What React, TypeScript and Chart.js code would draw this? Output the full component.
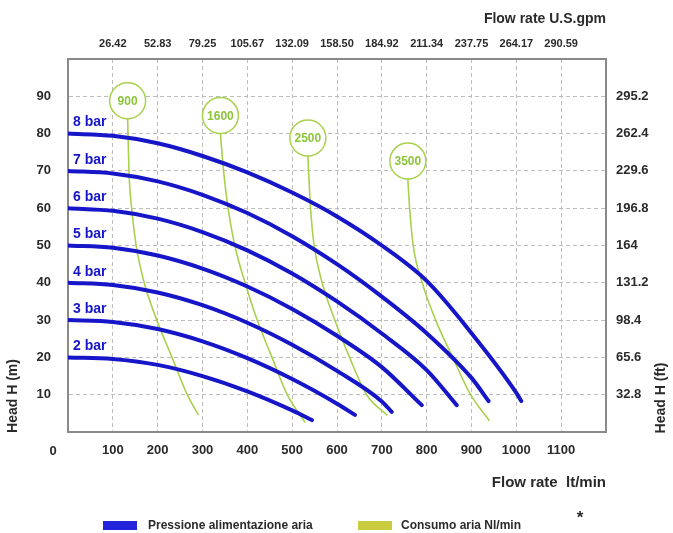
import { useEffect, useRef } from 'react';
import { Chart, registerables } from 'chart.js';

Chart.register(...registerables);

const FONT = '"Liberation Sans", Arial, Helvetica, sans-serif';
const BLUE = '#1616c8';
const GREEN = '#a9d14e';
const GREEN_TEXT = '#8cc43a';
const GRID = '#bdbdbd';
const TEXT = '#2a2a2a';

// Top axis (U.S. gpm) labels for 100..1100 lt/min
const usGpmLabels = ['26.42', '52.83', '79.25', '105.67', '132.09', '158.50', '184.92', '211.34', '237.75', '264.17', '290.59'];
// Right axis (ft) labels for 10..90 m
const headFtLabels = ['32.8', '65.6', '98.4', '131.2', '164', '196.8', '229.6', '262.4', '295.2'];

// Pressure curves (flow lt/min, head m)
const bar2Flow = [0, 100, 200, 300, 400, 500, 544];
const bar2Head = [20, 19.6, 18.0, 15.0, 10.9, 5.8, 3.2];
const bar3Flow = [0, 100, 200, 300, 400, 500, 600, 640];
const bar3Head = [30, 29.5, 27.6, 24.3, 19.8, 14.2, 7.6, 4.6];
const bar4Flow = [0, 100, 200, 300, 400, 500, 600, 700, 722];
const bar4Head = [40, 39.4, 37.4, 34.0, 29.3, 23.4, 16.4, 8.2, 5.4];
const bar5Flow = [0, 100, 200, 300, 400, 500, 600, 700, 789];
const bar5Head = [50, 49.4, 47.3, 43.8, 39.0, 33.0, 25.8, 17.4, 7.2];
const bar6Flow = [0, 100, 200, 300, 400, 500, 600, 700, 800, 867];
const bar6Head = [60, 59.3, 57.2, 53.6, 48.7, 42.5, 35.0, 26.4, 16.6, 7.2];
const bar7Flow = [0, 100, 200, 300, 400, 500, 600, 700, 800, 900, 938];
const bar7Head = [70, 69.3, 67.2, 63.6, 58.7, 52.5, 45.0, 36.3, 26.5, 14.5, 8.3];
const bar8Flow = [0, 100, 200, 300, 400, 500, 600, 700, 800, 900, 1000, 1011];
const bar8Head = [80, 79.4, 77.4, 74.0, 69.6, 64.2, 57.8, 50.0, 40.5, 26.5, 10.5, 8.3];

const pressureSeries = [
  { label: '2 bar', flow: bar2Flow, head: bar2Head },
  { label: '3 bar', flow: bar3Flow, head: bar3Head },
  { label: '4 bar', flow: bar4Flow, head: bar4Head },
  { label: '5 bar', flow: bar5Flow, head: bar5Head },
  { label: '6 bar', flow: bar6Flow, head: bar6Head },
  { label: '7 bar', flow: bar7Flow, head: bar7Head },
  { label: '8 bar', flow: bar8Flow, head: bar8Head },
];

// Air consumption curves (Nl/min)
const air900Flow = [133, 136, 142, 152, 170, 198, 232, 266, 291];
const air900Head = [84, 70, 60, 50, 40, 30, 20, 10, 4.5];
const air1600Flow = [340, 347, 357, 372, 395, 422, 455, 489, 529];
const air1600Head = [80, 70, 60, 50, 40, 30, 20, 10, 2.5];
const air2500Flow = [535, 541, 549, 567, 595, 628, 666, 712];
const air2500Head = [74, 60, 50, 40, 30, 20, 10, 4.5];
const air3500Flow = [758, 762, 770, 790, 820, 858, 898, 940];
const air3500Head = [67.8, 60, 50, 40, 30, 20, 10, 3];

const airSeries = [
  { label: '900', flow: air900Flow, head: air900Head },
  { label: '1600', flow: air1600Flow, head: air1600Head },
  { label: '2500', flow: air2500Flow, head: air2500Head },
  { label: '3500', flow: air3500Flow, head: air3500Head },
];

const legendItems = [
  { text: 'Pressione alimentazione aria', color: '#2323dc' },
  { text: 'Consumo aria Nl/min', color: '#cacc40' },
];

const CIRCLE_R = 18;

const overlayPlugin = {
  id: 'overlay',
  afterDatasetsDraw(chart: any) {
    const { ctx } = chart;
    const x = chart.scales.x;
    const y = chart.scales.y;
    ctx.save();
    ctx.font = `bold 14px ${FONT}`;
    ctx.fillStyle = BLUE;
    ctx.textAlign = 'left';
    ctx.textBaseline = 'middle';
    pressureSeries.forEach((s) => {
      ctx.fillText(s.label, x.getPixelForValue(s.flow[0]) + 5, y.getPixelForValue(s.head[0]) - 11);
    });
    airSeries.forEach((s) => {
      const cx = x.getPixelForValue(s.flow[0]);
      const cy = y.getPixelForValue(s.head[0]) - CIRCLE_R;
      ctx.beginPath();
      ctx.arc(cx, cy, CIRCLE_R, 0, Math.PI * 2);
      ctx.fillStyle = '#ffffff';
      ctx.fill();
      ctx.lineWidth = 1.5;
      ctx.strokeStyle = GREEN;
      ctx.stroke();
      ctx.fillStyle = GREEN_TEXT;
      ctx.font = `bold 12px ${FONT}`;
      ctx.textAlign = 'center';
      ctx.textBaseline = 'middle';
      ctx.fillText(s.label, cx, cy + 1);
    });
    ctx.restore();
  },
  afterDraw(chart: any) {
    const { ctx, chartArea } = chart;
    const x = chart.scales.x;
    ctx.save();
    ctx.fillStyle = TEXT;
    ctx.font = `bold 13px ${FONT}`;
    ctx.textAlign = 'center';
    ctx.textBaseline = 'middle';
    ctx.fillText('0', x.getPixelForValue(0) - 15, 451);
    ctx.font = `bold 14px ${FONT}`;
    ctx.textAlign = 'right';
    ctx.fillText('Flow rate U.S.gpm', chartArea.right, 19);
    ctx.font = `bold 15px ${FONT}`;
    ctx.fillText('Flow rate  lt/min', chartArea.right, 483);
    ctx.font = `bold 14px ${FONT}`;
    ctx.textAlign = 'center';
    ctx.save();
    ctx.translate(13, 396);
    ctx.rotate(-Math.PI / 2);
    ctx.fillText('Head H (m)', 0, 0);
    ctx.restore();
    ctx.save();
    ctx.translate(661, 398);
    ctx.rotate(-Math.PI / 2);
    ctx.fillText('Head H (ft)', 0, 0);
    ctx.restore();
    const boxX = [103, 358];
    const textX = [148, 401];
    ctx.font = `bold 12px ${FONT}`;
    ctx.textAlign = 'left';
    legendItems.forEach((it, i) => {
      ctx.fillStyle = it.color;
      ctx.fillRect(boxX[i], 521, 34, 9);
      ctx.fillStyle = TEXT;
      ctx.fillText(it.text, textX[i], 526);
    });
    ctx.font = `bold 17px ${FONT}`;
    ctx.textAlign = 'center';
    ctx.fillText('*', 580, 518);
    ctx.restore();
  },
};

export default function App() {
  const canvasRef = useRef<HTMLCanvasElement | null>(null);

  useEffect(() => {
    document.body.style.margin = '0';
    const canvas = canvasRef.current;
    if (!canvas) return;

    const blueSets = pressureSeries.map((s) => ({
      label: s.label,
      data: s.flow.map((f, i) => ({ x: f, y: s.head[i] })),
      borderColor: BLUE,
      backgroundColor: BLUE,
      borderWidth: 4,
      borderCapStyle: 'round' as const,
      pointRadius: 0,
      cubicInterpolationMode: 'monotone' as const,
      fill: false,
    }));
    const greenSets = airSeries.map((s) => ({
      label: s.label,
      data: s.flow.map((f, i) => ({ x: f, y: s.head[i] })),
      borderColor: GREEN,
      backgroundColor: GREEN,
      borderWidth: 1.6,
      pointRadius: 0,
      cubicInterpolationMode: 'monotone' as const,
      fill: false,
    }));

    const tickFont = { family: FONT, size: 13, weight: 'bold' as const };

    const chart = new Chart(canvas, {
      type: 'line',
      data: { datasets: [...blueSets, ...greenSets] },
      plugins: [overlayPlugin],
      options: {
        animation: false,
        responsive: false,
        maintainAspectRatio: false,
        layout: { padding: 0 },
        plugins: {
          legend: { display: false },
          tooltip: { enabled: false },
          title: { display: false },
        },
        scales: {
          x: {
            type: 'linear',
            position: 'bottom',
            min: 0,
            max: 1200,
            afterFit: (s: any) => { s.height = 101; },
            ticks: {
              stepSize: 100,
              autoSkip: false,
              maxRotation: 0,
              padding: 11,
              color: TEXT,
              font: tickFont,
              callback: (v: any) => (v > 0 && v < 1200 ? String(v) : ''),
            },
            grid: {
              drawTicks: false,
              lineWidth: 1,
              color: (c: any) => (c.tick && c.tick.value > 0 && c.tick.value < 1200 ? GRID : 'transparent'),
            },
            border: { display: true, color: '#8a8a8a', width: 2, dash: [4, 3] },
          },
          x2: {
            type: 'linear',
            position: 'top',
            min: 0,
            max: 1200,
            afterFit: (s: any) => { s.height = 59; },
            ticks: {
              stepSize: 100,
              autoSkip: false,
              maxRotation: 0,
              padding: 8,
              color: TEXT,
              font: { family: FONT, size: 11, weight: 'bold' as const },
              callback: (v: any) => (v > 0 && v < 1200 ? usGpmLabels[v / 100 - 1] : ''),
            },
            grid: { drawTicks: false, drawOnChartArea: false },
            border: { display: true, color: '#8a8a8a', width: 2 },
          },
          y: {
            type: 'linear',
            position: 'left',
            min: 0,
            max: 100,
            afterFit: (s: any) => { s.width = 68; },
            ticks: {
              stepSize: 10,
              autoSkip: false,
              padding: 17,
              color: TEXT,
              font: tickFont,
              callback: (v: any) => (v > 0 && v < 100 ? String(v) : ''),
            },
            grid: {
              drawTicks: false,
              lineWidth: 1,
              color: (c: any) => (c.tick && c.tick.value > 0 && c.tick.value < 100 ? GRID : 'transparent'),
            },
            border: { display: true, color: '#8a8a8a', width: 2, dash: [4, 3] },
          },
          y2: {
            type: 'linear',
            position: 'right',
            min: 0,
            max: 100,
            afterFit: (s: any) => { s.width = 67; },
            ticks: {
              stepSize: 10,
              autoSkip: false,
              padding: 10,
              color: TEXT,
              font: tickFont,
              callback: (v: any) => (v > 0 && v < 100 ? headFtLabels[Math.round(v / 10) - 1] : ''),
            },
            grid: { drawTicks: false, drawOnChartArea: false },
            border: { display: true, color: '#8a8a8a', width: 2 },
          },
        },
      },
    });

    return () => chart.destroy();
  }, []);

  return (
    <div style={{ width: 673, height: 533, background: '#fff' }}>
      <canvas ref={canvasRef} width={673} height={533} style={{ display: 'block' }} />
    </div>
  );
}
